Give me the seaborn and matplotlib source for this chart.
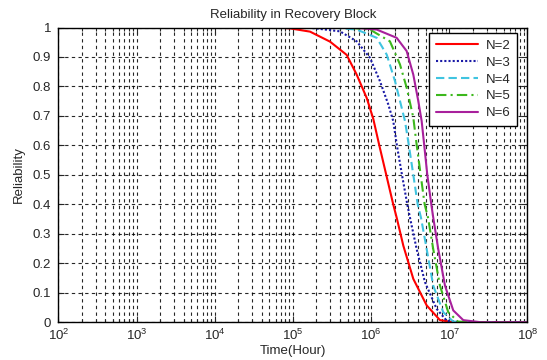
import numpy as np
import pandas as pd
import matplotlib
matplotlib.use("Agg")
import matplotlib.pyplot as plt
import seaborn as sns
from matplotlib.ticker import LogLocator, NullFormatter

# ---- data (log10 of time in hours, reliability) ----
labels = ["N=2", "N=3", "N=4", "N=5", "N=6"]

n2_log_t = [2.0, 4.80, 4.963, 5.219, 5.475, 5.688, 5.816, 5.944, 6.028, 6.105, 6.194,
            6.283, 6.327, 6.412, 6.540, 6.711, 6.881, 7.05, 8.0]
n2_rel = [1.0, 1.0, 0.997, 0.986, 0.952, 0.907, 0.840, 0.761, 0.690, 0.600, 0.500,
          0.400, 0.355, 0.260, 0.147, 0.057, 0.007, 0.0, 0.0]

n3_log_t = [2.0, 5.10, 5.257, 5.602, 5.816, 5.986, 6.113, 6.220, 6.284, 6.330, 6.395,
            6.463, 6.497, 6.583, 6.689, 6.839, 6.967, 7.15, 8.0]
n3_rel = [1.0, 1.0, 0.998, 0.987, 0.953, 0.897, 0.818, 0.739, 0.682, 0.600, 0.500,
          0.400, 0.355, 0.248, 0.136, 0.045, 0.005, 0.0, 0.0]

n4_log_t = [2.0, 5.40, 5.537, 5.816, 6.072, 6.200, 6.306, 6.391, 6.434, 6.483, 6.540,
            6.596, 6.638, 6.711, 6.795, 6.923, 7.051, 7.25, 8.0]
n4_rel = [1.0, 1.0, 0.999, 0.993, 0.965, 0.908, 0.818, 0.728, 0.682, 0.600, 0.500,
          0.400, 0.355, 0.248, 0.124, 0.034, 0.002, 0.0, 0.0]

n5_log_t = [2.0, 5.60, 5.730, 5.986, 6.241, 6.369, 6.455, 6.540, 6.584, 6.634,
            6.685, 6.728, 6.795, 6.881, 6.987, 7.111, 7.30, 8.0]
n5_rel = [1.0, 1.0, 0.999, 0.993, 0.953, 0.875, 0.796, 0.694, 0.600, 0.500,
          0.400, 0.355, 0.248, 0.124, 0.034, 0.002, 0.0, 0.0]

n6_log_t = [2.0, 5.65, 5.794, 6.072, 6.327, 6.455, 6.540, 6.604, 6.647, 6.680, 6.719,
            6.770, 6.795, 6.859, 6.945, 7.051, 7.179, 7.40, 8.0]
n6_rel = [1.0, 1.0, 0.999, 0.993, 0.965, 0.920, 0.840, 0.750, 0.682, 0.600, 0.500,
          0.400, 0.355, 0.248, 0.124, 0.040, 0.007, 0.0, 0.0]

series_log_t = [n2_log_t, n3_log_t, n4_log_t, n5_log_t, n6_log_t]
series_rel = [n2_rel, n3_rel, n4_rel, n5_rel, n6_rel]

colors = ["#ff0000", "#1a1aa6", "#40c4e0", "#3cb81c", "#a8209c"]
styles = ["-", (0, (1, 1)), (0, (4, 2)), (0, (5, 2, 1, 2)), "-"]

x_ticks_exp = [2, 3, 4, 5, 6, 7, 8]
y_ticks = [0, 0.1, 0.2, 0.3, 0.4, 0.5, 0.6, 0.7, 0.8, 0.9, 1]
y_tick_labels = ["0", "0.1", "0.2", "0.3", "0.4", "0.5", "0.6", "0.7", "0.8", "0.9", "1"]

# ---- plotting ----
sns.set_style("ticks")
plt.rcParams["font.family"] = ["Liberation Sans", "DejaVu Sans"]
plt.rcParams["mathtext.fontset"] = "custom"
plt.rcParams["mathtext.rm"] = "Liberation Sans"
plt.rcParams["mathtext.it"] = "Liberation Sans"

fig = plt.figure(figsize=(5.47, 3.60), dpi=100)
ax = fig.add_axes([0.1066, 0.105, 0.8577, 0.8186])

for lab, lt, rel, c, ls in zip(labels, series_log_t, series_rel, colors, styles):
    df = pd.DataFrame({"time": np.power(10.0, lt), "rel": rel})
    sns.lineplot(data=df, x="time", y="rel", ax=ax, color=c, linestyle=ls,
                 linewidth=1.5, label=lab, sort=False, estimator=None)

ax.set_xscale("log")
ax.set_xlim(10.0 ** x_ticks_exp[0], 10.0 ** x_ticks_exp[-1])
ax.set_ylim(0, 1)
ax.set_xticks([10.0 ** e for e in x_ticks_exp])
ax.xaxis.set_minor_locator(LogLocator(base=10, subs=np.arange(2, 10), numticks=20))
ax.xaxis.set_minor_formatter(NullFormatter())
ax.set_yticks(y_ticks)
ax.set_yticklabels(y_tick_labels)

grid_kw = dict(color="black", linestyle=(0, (3, 3)), linewidth=0.8, alpha=0.85)
ax.grid(True, which="major", axis="both", **grid_kw)
ax.grid(True, which="minor", axis="x", **grid_kw)
ax.set_axisbelow(True)

ax.tick_params(which="both", direction="in", top=True, right=True, labelsize=9.5, width=0.8)
ax.tick_params(which="major", length=4)
ax.tick_params(which="minor", length=2)
ax.tick_params(axis="x", which="major", pad=4)
ax.tick_params(axis="y", which="major", pad=5)
for sp in ax.spines.values():
    sp.set_linewidth(1.0)
    sp.set_color("black")

ax.set_title("Reliability in Recovery Block", fontsize=9.5, pad=7)
ax.set_xlabel("Time(Hour)", fontsize=9.5)
ax.xaxis.set_label_coords(0.5, -0.078)
ax.set_ylabel("Reliability", fontsize=9.5, labelpad=6)

leg = ax.legend(loc="upper right", bbox_to_anchor=(517 / 547, 1 - 33 / 360),
                bbox_transform=fig.transFigure, borderaxespad=0, fancybox=False,
                framealpha=1, edgecolor="black", fontsize=9.5, handlelength=3.2,
                labelspacing=0.35, borderpad=0.5, handletextpad=0.6)
leg.get_frame().set_linewidth(1.0)

fig.savefig("out.png", dpi=100, facecolor="white")
